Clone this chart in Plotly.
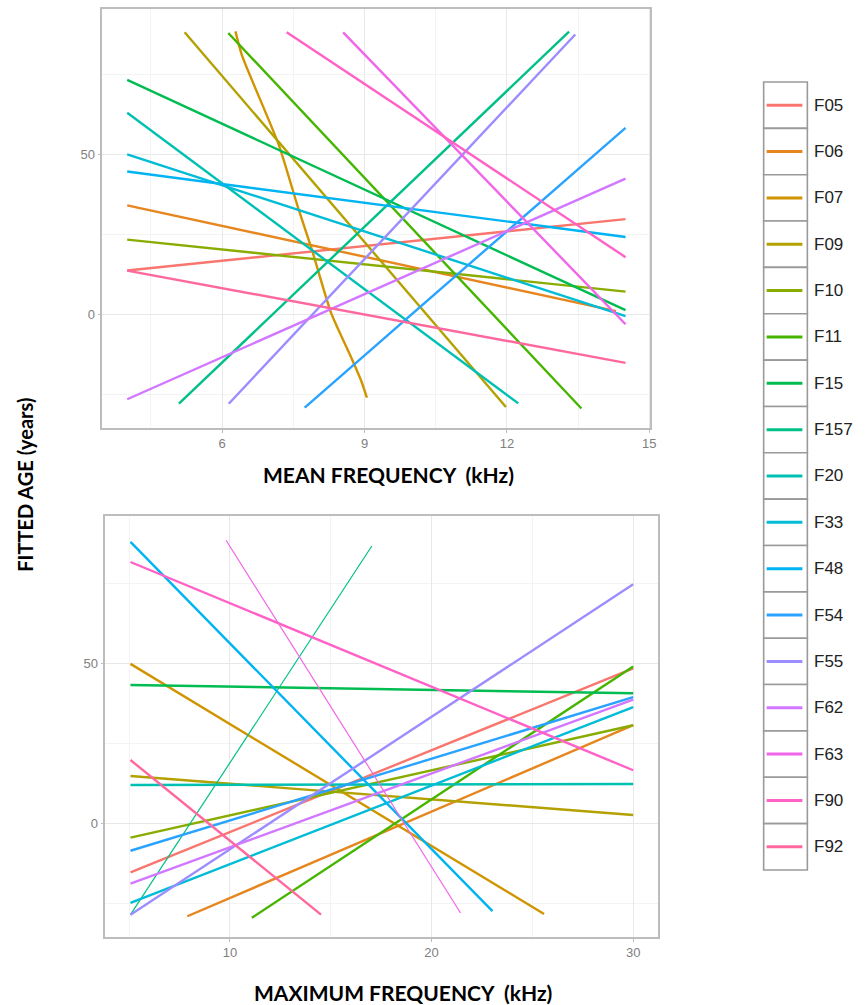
import math
import plotly.graph_objects as go

# ---- data -----------------------------------------------------------------
groups = ["F05", "F06", "F07", "F09", "F10", "F11", "F15", "F157", "F20",
          "F33", "F48", "F54", "F55", "F62", "F63", "F90", "F92"]

# Fitted age vs. mean frequency: start / end of each fitted line
mean_x_start = [4.0, 4.0, 6.28, 5.21, 4.0, 6.13, 4.0, 5.09, 4.0, 4.0, 4.0,
                7.74, 6.14, 4.0, 8.55, 7.36, 4.0]
mean_x_end = [14.5, 14.3, 9.05, 11.98, 14.5, 13.57, 14.5, 13.31, 12.24, 14.5,
              14.5, 14.5, 13.44, 14.5, 14.5, 14.5, 14.5]
mean_age_start = [13.7, 34.1, 88.6, 88.3, 23.4, 88.1, 73.4, -28.0, 63.1, 50.1,
                  44.7, -29.2, -28.0, -26.6, 88.3, 88.3, 13.7]
mean_age_end = [29.8, 1.0, -26.1, -29.0, 7.1, -29.5, 1.3, 88.5, -27.9, -0.6,
                24.2, 58.4, 87.6, 42.5, -3.1, 17.9, -15.2]

# F07 is a curved fit in the mean-frequency panel
f07_mean_x = [6.28, 6.42, 7.19, 7.60, 7.89, 8.30, 8.72, 8.93, 9.05]
f07_mean_age = [88.6, 81.0, 53.2, 33.4, 20.3, 0.3, -13.5, -20.8, -26.1]

# Fitted age vs. maximum frequency: start / end of each fitted line
max_x_start = [5.07, 7.89, 5.07, 5.07, 5.07, 11.09, 5.07, 5.07, 5.07, 5.07,
               5.07, 5.07, 5.07, 5.07, 9.81, 5.07, 5.07]
max_x_end = [30.0, 30.0, 25.58, 30.0, 30.0, 30.0, 30.0, 17.04, 30.0, 30.0,
             23.02, 30.0, 30.0, 30.0, 21.44, 30.0, 14.52]
max_age_start = [-15.4, -29.1, 49.9, 14.8, -4.5, -29.6, 43.3, -28.6, 12.0,
                 -24.9, 88.1, -8.6, -28.6, -18.9, 88.6, 81.8, 19.8]
max_age_end = [48.5, 30.7, -28.4, 2.6, 30.7, 49.1, 40.7, 86.8, 12.3, 36.4,
               -27.5, 39.5, 74.8, 38.7, -28.1, 16.6, -28.6]

thin_in_max = ["F157", "F63"]

mean_ticks = [6, 9, 12, 15]
mean_minor = [4.5, 7.5, 10.5, 13.5]
max_ticks = [10, 20, 30]
max_minor = [5, 15, 25]
age_ticks = [0, 50]
age_minor = [-25, 25, 75]

# ---- colours: evenly spaced HCL hues (l=65, c=100) ------------------------
def hcl_hex(h, c=100.0, l=65.0):
    un, vn, yn = 0.1978398, 0.4683363, 100.0
    Y = yn * ((l + 16) / 116) ** 3 if l > 7.999592 else yn * l / 903.3
    hr = math.radians(h)
    U, V = c * math.cos(hr), c * math.sin(hr)
    u = U / (13 * l) + un
    v = V / (13 * l) + vn
    X = 9.0 * Y * u / (4 * v)
    Z = -X / 3 - 5 * Y + 3 * Y / v
    rgb = [(3.240479 * X - 1.537150 * Y - 0.498535 * Z) / yn,
           (-0.969256 * X + 1.875992 * Y + 0.041556 * Z) / yn,
           (0.055648 * X - 0.204043 * Y + 1.057311 * Z) / yn]
    out = []
    for t in rgb:
        t = 1.055 * t ** (1 / 2.4) - 0.055 if t > 0.00304 else 12.92 * t
        out.append(int(round(255 * min(1.0, max(0.0, t)))))
    return "#%02X%02X%02X" % tuple(out)

n = len(groups)
colors = [hcl_hex(15 + i * 360.0 / n) for i in range(n)]

# ---- figure ----------------------------------------------------------------
W, H = 865, 1005
fig = go.Figure()

for i, g in enumerate(groups):
    if g == "F07":
        xs, ys = f07_mean_x, f07_mean_age
    else:
        xs = [mean_x_start[i], mean_x_end[i]]
        ys = [mean_age_start[i], mean_age_end[i]]
    fig.add_trace(go.Scatter(x=xs, y=ys, mode="lines", name=g,
                             line=dict(color=colors[i], width=2.4,
                                       shape="spline", smoothing=0.6),
                             xaxis="x", yaxis="y", showlegend=False,
                             hoverinfo="skip"))

for i, g in enumerate(groups):
    fig.add_trace(go.Scatter(x=[max_x_start[i], max_x_end[i]],
                             y=[max_age_start[i], max_age_end[i]],
                             mode="lines", name=g,
                             line=dict(color=colors[i],
                                       width=1.2 if g in thin_in_max else 2.4),
                             xaxis="x2", yaxis="y2", showlegend=False,
                             hoverinfo="skip"))


def px_x(x):
    return x / W


def px_y(y):
    return 1 - y / H


tick_font = dict(family="Liberation Sans, Arial, sans-serif", size=13,
                 color="#808080")
common = dict(showline=True, mirror=True, linecolor="#BDBDBD", linewidth=1.5,
              showgrid=True, gridcolor="#E8E8E8", gridwidth=1.4,
              zeroline=False, ticks="outside", ticklen=3, tickcolor="#BDBDBD",
              tickwidth=1, tickfont=tick_font, tickmode="array")


def minor(vals):
    return dict(tickvals=vals, showgrid=True, gridcolor="#F3F3F3",
                gridwidth=0.8, ticks="")


fig.update_layout(
    width=W, height=H, margin=dict(l=0, r=0, t=0, b=0),
    paper_bgcolor="white", plot_bgcolor="white",
    xaxis=dict(domain=[px_x(103), px_x(655)], range=[3.475, 15.025],
               tickvals=mean_ticks, minor=minor(mean_minor), anchor="y",
               **common),
    yaxis=dict(domain=[px_y(428), px_y(9)], range=[-35.6, 95.6],
               tickvals=age_ticks, minor=minor(age_minor), anchor="x",
               **common),
    xaxis2=dict(domain=[px_x(106), px_x(663)], range=[3.82, 31.25],
                tickvals=max_ticks, minor=minor(max_minor), anchor="y2",
                **common),
    yaxis2=dict(domain=[px_y(937), px_y(516)], range=[-35.6, 96.2],
                tickvals=age_ticks, minor=minor(age_minor), anchor="x2",
                **common),
)

title_font = dict(family="Lato, Open Sans, sans-serif", size=21,
                  color="#000000")
fig.add_annotation(text="<b>MEAN FREQUENCY  (kHz)</b>", xref="paper",
                   yref="paper", x=px_x(391), y=px_y(474), showarrow=False,
                   xanchor="center", yanchor="middle", font=title_font)
fig.add_annotation(text="<b>MAXIMUM FREQUENCY  (kHz)</b>", xref="paper",
                   yref="paper", x=px_x(406), y=px_y(992), showarrow=False,
                   xanchor="center", yanchor="middle", font=title_font)
fig.add_annotation(text="<b>FITTED AGE (years)</b>", xref="paper",
                   yref="paper", x=px_x(25), y=px_y(485), showarrow=False,
                   xanchor="center", yanchor="middle", textangle=-90,
                   font=dict(family="Lato, Open Sans, sans-serif", size=20,
                             color="#000000"))

# ---- legend: one bordered key per group -----------------------------------
key_top, key_h = 82.0, 46.35
key_left, key_right = 769, 813
for i, g in enumerate(groups):
    y0 = key_top + i * key_h
    y1 = y0 + key_h
    yc = (y0 + y1) / 2
    fig.add_shape(type="rect", xref="paper", yref="paper",
                  x0=px_x(key_left), x1=px_x(key_right),
                  y0=px_y(y1), y1=px_y(y0),
                  line=dict(color="#9A9A9A", width=1.6), fillcolor="white")
    fig.add_shape(type="line", xref="paper", yref="paper",
                  x0=px_x(772), x1=px_x(808), y0=px_y(yc), y1=px_y(yc),
                  line=dict(color=colors[i], width=3))
    fig.add_annotation(text=g, xref="paper", yref="paper", x=px_x(818),
                       y=px_y(yc), showarrow=False, xanchor="left",
                       yanchor="middle",
                       font=dict(family="Liberation Sans, Arial, sans-serif",
                                 size=17, color="#222222"))

fig.write_html("out.html")
